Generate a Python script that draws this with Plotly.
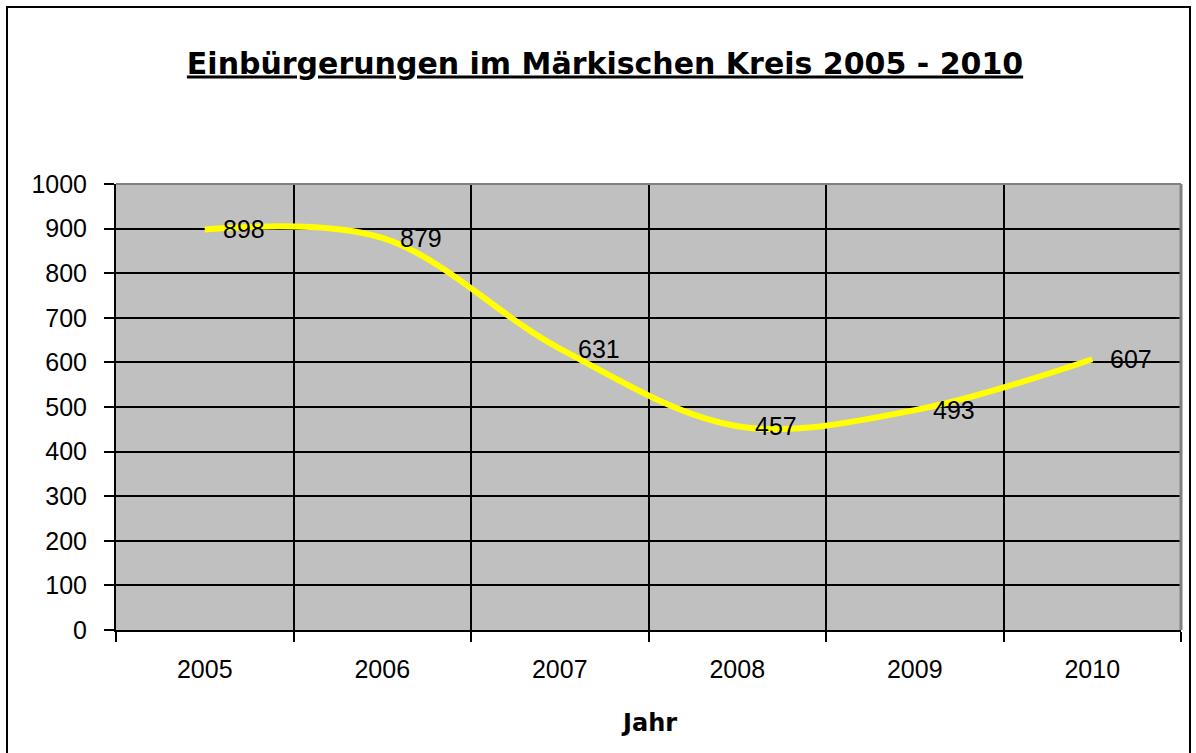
import plotly.graph_objects as go

years = ["2005", "2006", "2007", "2008", "2009", "2010"]
values = [898, 879, 631, 457, 493, 607]
y_ticks = [0, 100, 200, 300, 400, 500, 600, 700, 800, 900, 1000]

title_text = "Einbürgerungen im Märkischen Kreis 2005 - 2010"
x_title = "Jahr"

W, H = 1196, 753
L, R, T, B = 116, 1181, 184, 630

fig = go.Figure()
fig.add_trace(go.Scatter(
    x=years, y=values, mode="lines",
    line=dict(color="#FFFF00", width=6, shape="spline", smoothing=1.0),
    hoverinfo="x+y", showlegend=False,
))

for i, v in enumerate(values):
    fig.add_annotation(x=i, y=v, xref="x", yref="y", text=str(v), showarrow=False,
                       xanchor="left", yanchor="middle", xshift=16,
                       font=dict(family="Liberation Sans, Arial", size=25, color="black"))

# x-axis title
fig.add_annotation(x=0.5, y=(B - 723) / (B - T), xref="paper", yref="paper",
                   text="<b>" + x_title + "</b>", showarrow=False,
                   xanchor="center", yanchor="middle",
                   font=dict(family="Comic Sans MS, DejaVu Sans", size=24, color="black"))

pw, ph = R - L, B - T
# outer chart frame
fig.add_shape(type="rect", xref="paper", yref="paper",
              x0=(7 - L) / pw, x1=(1190 - L) / pw,
              y0=(B - 765) / ph, y1=(B - 7) / ph,
              line=dict(color="black", width=2), layer="above")
# grey plot-area border (top, right)
fig.add_shape(type="line", xref="paper", yref="paper", x0=0, x1=1, y0=1, y1=1,
              line=dict(color="#808080", width=2), layer="above")
fig.add_shape(type="line", xref="paper", yref="paper", x0=1, x1=1, y0=0, y1=1,
              line=dict(color="#808080", width=3), layer="above")

fig.update_layout(
    width=W, height=H,
    margin=dict(l=L, r=W - R, t=T, b=H - B, pad=0),
    paper_bgcolor="white", plot_bgcolor="#C0C0C0",
    title=dict(text="<b>" + title_text + "</b>", x=605 / W, y=1 - 63 / H,
               xanchor="center", yanchor="middle", xref="container", yref="container",
               font=dict(family="Comic Sans MS, DejaVu Sans", size=30, color="black",
                         lineposition="under")),
    xaxis=dict(type="category", range=[-0.5, 5.5], tickson="boundaries",
               showgrid=True, gridcolor="black", gridwidth=2,
               showline=True, linecolor="black", linewidth=2,
               ticks="outside", ticklen=10, tickwidth=2, tickcolor="black",
               ticklabelstandoff=16,
               tickfont=dict(family="Liberation Sans, Arial", size=25, color="black"),
               fixedrange=True),
    yaxis=dict(range=[0, 1000], tickvals=y_ticks, ticktext=[str(t) for t in y_ticks],
               showgrid=True, gridcolor="black", gridwidth=2, zeroline=False,
               showline=True, linecolor="black", linewidth=2,
               ticks="outside", ticklen=10, tickwidth=2, tickcolor="black",
               ticklabelstandoff=12,
               tickfont=dict(family="Liberation Sans, Arial", size=25, color="black"),
               fixedrange=True),
)

fig.write_html("out.html", config={"displayModeBar": False},
               post_script="document.body.style.margin='0px';")
